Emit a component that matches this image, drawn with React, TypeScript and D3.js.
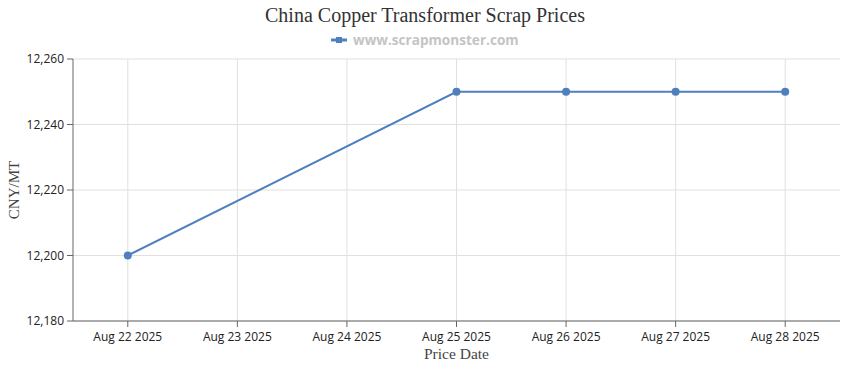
import React from "react";
import * as d3 from "d3";

const dates = ["Aug 22 2025", "Aug 23 2025", "Aug 24 2025", "Aug 25 2025", "Aug 26 2025", "Aug 27 2025", "Aug 28 2025"];
// null = no price recorded that day
const prices: (number | null)[] = [12200, null, null, 12250, 12250, 12250, 12250];
const yTicks = [12180, 12200, 12220, 12240, 12260];

const width = 850;
const height = 370;
const margin = { top: 59, right: 10, bottom: 49, left: 73 };
const lineColor = "#4f7fbd";
const tickFont = "'Open Sans', 'DejaVu Sans', sans-serif";
const serif = "'Liberation Serif', 'Times New Roman', serif";

export default function App() {
    const x = d3
        .scalePoint<string>()
        .domain(dates)
        .range([margin.left, width - margin.right])
        .padding(0.5);

    const y = d3
        .scaleLinear()
        .domain([12180, 12260])
        .range([height - margin.bottom, margin.top]);

    const fmt = d3.format(",");

    const pts = dates
        .map((d, i) => ({ d, v: prices[i] }))
        .filter(p => p.v !== null) as { d: string; v: number }[];

    const line = d3
        .line<{ d: string; v: number }>()
        .x(p => x(p.d)!)
        .y(p => y(p.v));

    const bottom = height - margin.bottom;
    const right = width - margin.right;

    return (
        <svg width={width} height={height} style={{ position: "absolute", left: 0, top: 0 }}>
            <rect width={width} height={height} fill="#fff" />
            <text x={425} y={22} textAnchor="middle" fontFamily={serif} fontSize="20" fill="#333">
                China Copper Transformer Scrap Prices
            </text>
            {/* legend */}
            <line x1={331} x2={347} y1={40} y2={40} stroke={lineColor} strokeWidth={3} />
            <rect x={336} y={37} width={6} height={6} fill={lineColor} />
            <text x={353} y={45} fontFamily={tickFont} fontWeight="bold" fontSize="13.6" fill="#c4c4c4">
                www.scrapmonster.com
            </text>

            {/* grid */}
            {yTicks.map(t => (
                <line key={'gy' + t} x1={margin.left} x2={right} y1={y(t)} y2={y(t)} stroke="#e0e0e0" />
            ))}
            {dates.map(d => (
                <line key={'gx' + d} x1={x(d)} x2={x(d)} y1={margin.top} y2={bottom} stroke="#e0e0e0" />
            ))}

            {/* axes */}
            <line x1={margin.left} x2={margin.left} y1={margin.top} y2={bottom} stroke="#666" />
            <line x1={margin.left} x2={right} y1={bottom} y2={bottom} stroke="#666" />
            {yTicks.map(t => (
                <g key={'ty' + t}>
                    <line x1={margin.left - 6} x2={margin.left} y1={y(t)} y2={y(t)} stroke="#666" />
                    <text x={margin.left - 9} y={y(t)} dy="0.35em" textAnchor="end" fontFamily={tickFont} fontSize="12" fill="#222">
                        {fmt(t)}
                    </text>
                </g>
            ))}
            {dates.map(d => (
                <g key={'tx' + d}>
                    <line x1={x(d)} x2={x(d)} y1={bottom} y2={bottom + 6} stroke="#666" />
                    <text x={x(d)} y={bottom + 20} textAnchor="middle" fontFamily={tickFont} fontSize="12" fill="#222">
                        {d}
                    </text>
                </g>
            ))}
            <text x={(margin.left + right) / 2} y={359} textAnchor="middle" fontFamily={serif} fontSize="15.5" fill="#444">
                Price Date
            </text>
            <text
                transform={`translate(19, ${(margin.top + bottom) / 2}) rotate(-90)`}
                textAnchor="middle"
                fontFamily={serif}
                fontSize="15"
                fill="#444"
            >
                CNY/MT
            </text>

            {/* series */}
            <path d={line(pts) || ""} fill="none" stroke={lineColor} strokeWidth={2} />
            {pts.map(p => (
                <circle key={'c' + p.d} cx={x(p.d)} cy={y(p.v)} r={4} fill={lineColor} />
            ))}
        </svg>
    );
}
